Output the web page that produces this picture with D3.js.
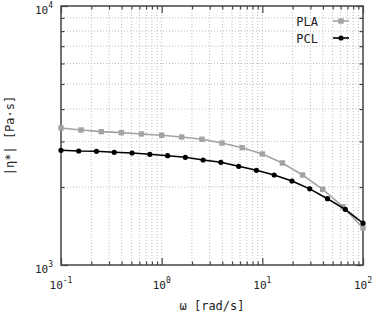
<!DOCTYPE html>
<html>
<head>
<meta charset="utf-8">
<script src="https://cdn.jsdelivr.net/npm/d3@7"></script>
<style>
	html, body { margin: 0; padding: 0; background: #fff; }
	text { font-family: "DejaVu Sans Mono", monospace; fill: #222; }
</style>
</head>
<body>
<div id="demo"></div>
<script>

// 角周波数 [rad/s]
var omegaPLA = [0.1, 0.158, 0.251, 0.398, 0.631, 1, 1.58, 2.51, 3.98, 6.31, 10, 15.8, 25.1, 39.8, 63.1, 100];
var omegaPCL = [0.1, 0.150, 0.225, 0.338, 0.508, 0.763, 1.145, 1.719, 2.581, 3.875, 5.818, 8.735, 13.11, 19.69, 29.56, 44.38, 66.63, 100];

// 複素粘度 |η*| [Pa·s]
var etaPLA = [3381, 3321, 3272, 3243, 3206, 3169, 3121, 3058, 2958, 2837, 2683, 2477, 2226, 1960, 1680, 1390];
var etaPCL = [2773, 2755, 2748, 2724, 2707, 2676, 2642, 2605, 2543, 2492, 2405, 2321, 2226, 2110, 1968, 1803, 1641, 1450];

// 目盛りラベル
var xTickLabels = [[0.1, '-1'], [1, '0'], [10, '1'], [100, '2']];
var yTickLabels = [[1000, '3'], [10000, '4']];

// 凡例
var seriesNames = ['PLA', 'PCL'];

var W = 374, H = 316;
var margin = {left: 61, top: 6, right: 11, bottom: 51};
var w = W - margin.left - margin.right;
var h = H - margin.top - margin.bottom;

var svg = d3.select("#demo").append("svg")
	.attr("width", W)
	.attr("height", H);

var g = svg.append("g")
	.attr("transform", "translate(" + margin.left + "," + margin.top + ")");

var x = d3.scaleLog().domain([0.1, 100]).range([0, w]);
var y = d3.scaleLog().domain([1000, 10000]).range([h, 0]);

var xAll = x.ticks();
var yAll = y.ticks();
var xMajor = xAll.filter(function(d) { return Math.abs(Math.log10(d) - Math.round(Math.log10(d))) < 1e-9; });
var yMajor = yAll.filter(function(d) { return Math.abs(Math.log10(d) - Math.round(Math.log10(d))) < 1e-9; });
var xMinor = xAll.filter(function(d) { return xMajor.indexOf(d) < 0; });
var yMinor = yAll.filter(function(d) { return yMajor.indexOf(d) < 0; });

// グリッド（点線）
g.append("g").selectAll("line")
	.data(xAll.filter(function(d) { return d > 0.1 && d < 100; }))
	.enter().append("line")
	.attr("x1", function(d) { return x(d); })
	.attr("x2", function(d) { return x(d); })
	.attr("y1", 0)
	.attr("y2", h)
	.attr("stroke", "#bdbdbd")
	.attr("stroke-width", 1)
	.attr("stroke-dasharray", "1,2")
	;
g.append("g").selectAll("line")
	.data(yAll.filter(function(d) { return d > 1000 && d < 10000; }))
	.enter().append("line")
	.attr("x1", 0)
	.attr("x2", w)
	.attr("y1", function(d) { return y(d); })
	.attr("y2", function(d) { return y(d); })
	.attr("stroke", "#bdbdbd")
	.attr("stroke-width", 1)
	.attr("stroke-dasharray", "1,2")
	;

// 内向きの目盛り（4辺）
function addAxis(axis, tx, ty) {
	var a = g.append("g")
		.attr("transform", "translate(" + tx + "," + ty + ")")
		.call(axis);
	a.select(".domain").remove();
	a.selectAll("line").attr("stroke", "#444").attr("stroke-width", 1.2);
	a.selectAll("text").remove();
}
addAxis(d3.axisBottom(x).tickValues(xMajor).tickSize(-7), 0, h);
addAxis(d3.axisBottom(x).tickValues(xMinor).tickSize(-3.5), 0, h);
addAxis(d3.axisTop(x).tickValues(xMajor).tickSize(-7), 0, 0);
addAxis(d3.axisTop(x).tickValues(xMinor).tickSize(-3.5), 0, 0);
addAxis(d3.axisLeft(y).tickValues(yMajor).tickSize(-7), 0, 0);
addAxis(d3.axisLeft(y).tickValues(yMinor).tickSize(-3.5), 0, 0);
addAxis(d3.axisRight(y).tickValues(yMajor).tickSize(-7), w, 0);
addAxis(d3.axisRight(y).tickValues(yMinor).tickSize(-3.5), w, 0);

// 枠
g.append("rect")
	.attr("x", 0)
	.attr("y", 0)
	.attr("width", w)
	.attr("height", h)
	.attr("fill", "none")
	.attr("stroke", "#444")
	.attr("stroke-width", 1.5)
	;

// 目盛りラベル（10のべき）
var xt = g.selectAll(".xt")
	.data(xTickLabels)
	.enter().append("text")
	.attr("class", "xt")
	.attr("x", function(d) { return x(d[0]); })
	.attr("y", h + 24)
	.attr("text-anchor", "middle")
	.attr("font-size", 11)
	;
xt.append("tspan").text("10");
xt.append("tspan").attr("dy", -6).attr("font-size", 8).text(function(d) { return d[1]; });

var yt = g.selectAll(".yt")
	.data(yTickLabels)
	.enter().append("text")
	.attr("class", "yt")
	.attr("x", -8)
	.attr("y", function(d) { return y(d[0]) + 8; })
	.attr("text-anchor", "end")
	.attr("font-size", 11)
	;
yt.append("tspan").text("10");
yt.append("tspan").attr("dy", -6).attr("font-size", 8).text(function(d) { return d[1]; });

// 軸タイトル
svg.append("text")
	.attr("x", margin.left + w / 2)
	.attr("y", 310)
	.attr("text-anchor", "middle")
	.attr("font-size", 12)
	.text("ω [rad/s]")
	;
svg.append("text")
	.attr("transform", "translate(14," + (margin.top + h / 2) + ") rotate(-90)")
	.attr("text-anchor", "middle")
	.attr("font-size", 12)
	.text("|η*| [Pa·s]")
	;

// 系列
var series = [
	{name: seriesNames[0], xs: omegaPLA, ys: etaPLA, color: "#a3a3a3", width: 1.6, shape: "square"},
	{name: seriesNames[1], xs: omegaPCL, ys: etaPCL, color: "#000000", width: 1.6, shape: "circle"}
];

var lineGen = d3.line()
	.x(function(d) { return x(d[0]); })
	.y(function(d) { return y(d[1]); });

series.forEach(function(s) {
	var pts = s.xs.map(function(v, i) { return [v, s.ys[i]]; });
	g.append("path")
		.attr("d", lineGen(pts))
		.attr("fill", "none")
		.attr("stroke", s.color)
		.attr("stroke-width", s.width)
		;
	if (s.shape === "square") {
		g.append("g").selectAll("rect")
			.data(pts)
			.enter().append("rect")
			.attr("x", function(d) { return x(d[0]) - 2.7; })
			.attr("y", function(d) { return y(d[1]) - 2.7; })
			.attr("width", 5.4)
			.attr("height", 5.4)
			.attr("fill", s.color)
			;
	} else {
		g.append("g").selectAll("circle")
			.data(pts)
			.enter().append("circle")
			.attr("cx", function(d) { return x(d[0]); })
			.attr("cy", function(d) { return y(d[1]); })
			.attr("r", 2.6)
			.attr("fill", s.color)
			;
	}
});

// 凡例
series.forEach(function(s, i) {
	var ly = 21 + i * 17;
	svg.append("text")
		.attr("x", 318)
		.attr("y", ly + 4.5)
		.attr("text-anchor", "end")
		.attr("font-size", 12)
		.text(s.name)
		;
	svg.append("line")
		.attr("x1", 333)
		.attr("x2", 349)
		.attr("y1", ly)
		.attr("y2", ly)
		.attr("stroke", s.color)
		.attr("stroke-width", s.width)
		;
	if (s.shape === "square") {
		svg.append("rect")
			.attr("x", 341 - 2.7)
			.attr("y", ly - 2.7)
			.attr("width", 5.4)
			.attr("height", 5.4)
			.attr("fill", s.color)
			;
	} else {
		svg.append("circle")
			.attr("cx", 341)
			.attr("cy", ly)
			.attr("r", 2.6)
			.attr("fill", s.color)
			;
	}
});

</script>
</body>
</html>
